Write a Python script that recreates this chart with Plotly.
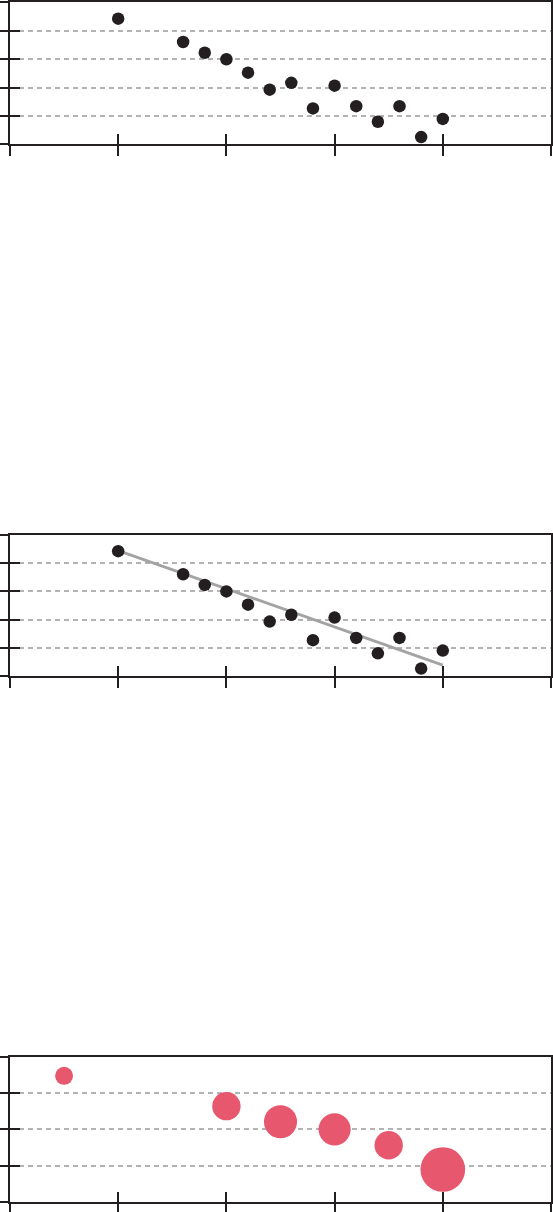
import plotly.graph_objects as go

# ---- data ----
x_points = [1.0, 1.6, 1.8, 2.0, 2.2, 2.4, 2.6, 2.8, 3.0, 3.2, 3.4, 3.6, 3.8, 4.0]
y_points = [4.43, 3.61, 3.23, 3.00, 2.53, 1.93, 2.17, 1.27, 2.07, 1.35, 0.80, 1.35, 0.26, 0.90]

trend_x = [1.0, 4.0]
trend_y = [4.45, 0.38]

bubble_x = [0.5, 2.0, 2.5, 3.0, 3.5, 4.0]
bubble_y = [3.48, 2.64, 2.21, 2.00, 1.56, 0.89]
bubble_size = [10, 25, 34, 32, 25, 62]

x_ticks = [0, 1, 2, 3, 4, 5]
y_ticks_a = [0, 1, 2, 3, 4, 5]
y_ticks_b = [0, 1, 2, 3, 4]

# ---- style ----
INK = "#231F20"
GRID = "#B3B3B3"
DOT_SIZE = 12.5
BUBBLE_COLOR = "#E7576E"
W, H = 553, 1212

def ydom(top_px, bot_px):
    return [1 - bot_px / H, 1 - top_px / H]

xdom = [10 / W, 552 / W]
ydoms = [ydom(0.5, 142.7), ydom(534, 675), ydom(1056.7, 1201.7)]
yranges = [[0, 5], [0, 5], [0, 4]]
yticks = [y_ticks_a, y_ticks_a, y_ticks_b]

fig = go.Figure()

# subplot 1: scatter
fig.add_trace(go.Scatter(x=x_points, y=y_points, mode="markers",
                         marker=dict(color=INK, size=DOT_SIZE),
                         xaxis="x", yaxis="y", showlegend=False))
# subplot 2: scatter + trend line
fig.add_trace(go.Scatter(x=trend_x, y=trend_y, mode="lines",
                         line=dict(color="#A3A3A3", width=2.8),
                         xaxis="x2", yaxis="y2", showlegend=False))
fig.add_trace(go.Scatter(x=x_points, y=y_points, mode="markers",
                         marker=dict(color=INK, size=DOT_SIZE),
                         xaxis="x2", yaxis="y2", showlegend=False))
# subplot 3: bubbles
sizeref = 2.0 * max(bubble_size) / (44.7 ** 2)
fig.add_trace(go.Scatter(x=bubble_x, y=bubble_y, mode="markers",
                         marker=dict(color=BUBBLE_COLOR, size=bubble_size,
                                     sizemode="area", sizeref=sizeref,
                                     opacity=1, line=dict(width=0)),
                         xaxis="x3", yaxis="y3", showlegend=False))

layout = dict(width=W, height=H, margin=dict(l=0, r=0, t=0, b=0),
              plot_bgcolor="white", paper_bgcolor="white", showlegend=False)

for i in range(3):
    n = i + 1
    sx = "" if n == 1 else str(n)
    layout["xaxis" + sx] = dict(
        domain=xdom, anchor="y" + sx, range=[0, 5], tickvals=x_ticks,
        showticklabels=False, showgrid=False, zeroline=False,
        showline=True, linecolor=INK, linewidth=2, mirror=True,
        ticks="outside", ticklen=10, tickwidth=2, tickcolor=INK)
    layout["yaxis" + sx] = dict(
        domain=ydoms[i], anchor="x" + sx, range=yranges[i], tickvals=yticks[i],
        showticklabels=False, showgrid=True, gridcolor=GRID, gridwidth=2,
        griddash="5px,4px", zeroline=False,
        showline=True, linecolor=INK, linewidth=2, mirror=True,
        ticks="outside", ticklen=10, tickwidth=2, tickcolor=INK)
    # overlay axes to draw the inner half of the crossing ticks
    m = n + 3
    layout["xaxis" + str(m)] = dict(
        overlaying="x" + sx, anchor="y" + str(m), range=[0, 5], tickvals=x_ticks,
        showticklabels=False, showgrid=False, zeroline=False, showline=False,
        ticks="inside", ticklen=10, tickwidth=2, tickcolor=INK)
    layout["yaxis" + str(m)] = dict(
        overlaying="y" + sx, anchor="x" + str(m), range=yranges[i], tickvals=yticks[i],
        showticklabels=False, showgrid=False, zeroline=False, showline=False,
        ticks="inside", ticklen=10, tickwidth=2, tickcolor=INK)
    fig.add_trace(go.Scatter(x=[None], y=[None], mode="markers",
                             xaxis="x" + str(m), yaxis="y" + str(m),
                             showlegend=False, hoverinfo="skip"))

fig.update_layout(**layout)
fig.write_html("out.html",
               config={"displayModeBar": False},
               post_script="document.body.style.margin='0';document.body.style.overflow='hidden';")
